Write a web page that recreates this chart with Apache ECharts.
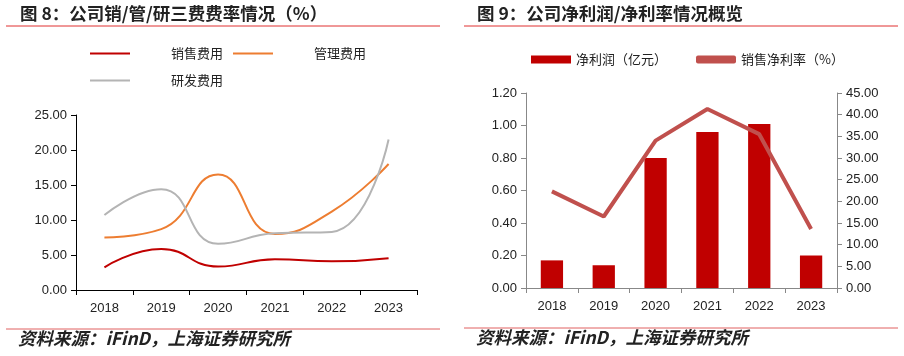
<!DOCTYPE html>
<html><head><meta charset="utf-8">
<script src="https://cdn.jsdelivr.net/npm/echarts@6/dist/echarts.min.js"></script>
<style>html,body{margin:0;padding:0;background:#fff}#c{width:904px;height:356px}</style>
</head><body><div id="c"></div>
<script>
const years = ['2018','2019','2020','2021','2022','2023'];
const salesRate = [3.24, 5.85, 3.35, 4.4, 4.1, 4.55];
const mgmtRate = [7.5, 8.7, 16.5, 8.0, 11.2, 18.0];
const rdRate = [10.7, 14.4, 6.6, 8.1, 8.3, 21.5];
const netProfit = [0.17, 0.14, 0.80, 0.96, 1.01, 0.20];
const netMargin = [22.3, 16.5, 34.0, 41.3, 35.5, 13.6];
const leftTicks = [0, 25];
const rightTicksL = [0, 1.2];
const rightTicksR = [0, 45];

const cjk = '"Noto Sans CJK SC", sans-serif';
const num = '"Liberation Sans", Arial, sans-serif';
const chart = echarts.init(document.getElementById('c'));
const fmt2 = v => v.toFixed(2);
const legText = {fontFamily: cjk, fontSize: 13, color:'#222', padding:[0,0,0,36]};
function lineLeg(name, left, top) {
  return {left: left, top: top, itemWidth: 40, itemHeight: 2, icon: 'rect', data: [name], textStyle: legText};
}
chart.setOption({
  animation: false,
  graphic: [
    {type:'text', left: 20, top: 5, style:{text:'图 8：公司销/管/研三费费率情况（%）', font:'bold 17.5px ' + cjk, fill:'#222'}},
    {type:'line', shape:{x1:6,y1:26,x2:440,y2:26}, style:{stroke:'#e03030', lineWidth:1}},
    {type:'line', shape:{x1:6,y1:329,x2:440,y2:329}, style:{stroke:'#e06060', lineWidth:1}},
    {type:'text', left: 18, top: 330, style:{text:'资料来源：iFinD，上海证券研究所', font:'italic bold 17.5px ' + cjk, fill:'#222'}},
    {type:'text', left: 477, top: 5, style:{text:'图 9：公司净利润/净利率情况概览', font:'bold 17.5px ' + cjk, fill:'#222'}},
    {type:'line', shape:{x1:464,y1:26,x2:898,y2:26}, style:{stroke:'#e03030', lineWidth:1}},
    {type:'line', shape:{x1:464,y1:328,x2:898,y2:328}, style:{stroke:'#e06060', lineWidth:1}},
    {type:'text', left: 476, top: 329, style:{text:'资料来源：iFinD，上海证券研究所', font:'italic bold 17.5px ' + cjk, fill:'#222'}}
  ],
  legend: [
    lineLeg('销售费用', 85, 42),
    lineLeg('管理费用', 228, 42),
    lineLeg('研发费用', 85, 69),
    {left: 526, top: 48, itemWidth: 40, itemHeight: 8, itemGap: 29,
     data: [{name:'净利润（亿元）', icon:'rect'}, {name:'销售净利率（%）', icon:'roundRect'}],
     textStyle:{fontFamily: cjk, fontSize: 13, color:'#222'}}
  ],
  grid: [
    {left: 76, top: 115, width: 341, height: 175},
    {left: 526, top: 93, width: 311, height: 195}
  ],
  xAxis: [
    {type:'category', data: years, gridIndex:0,
     axisLine:{lineStyle:{color:'#000'}}, axisTick:{show:true, lineStyle:{color:'#000'}, length:5},
     axisLabel:{fontFamily:num, fontSize:13, color:'#222', margin:12}},
    {type:'category', data: years, gridIndex:1,
     axisLine:{lineStyle:{color:'#888'}}, axisTick:{show:true, lineStyle:{color:'#888'}, length:5},
     axisLabel:{fontFamily:num, fontSize:13, color:'#222', margin:12}}
  ],
  yAxis: [
    {type:'value', gridIndex:0, min: leftTicks[0], max: leftTicks[1], interval:5,
     axisLine:{show:true, lineStyle:{color:'#000'}}, axisTick:{show:true, lineStyle:{color:'#000'}, length:5},
     splitLine:{show:false}, axisLabel:{formatter:fmt2, fontFamily:num, fontSize:13, color:'#222', margin:9}},
    {type:'value', gridIndex:1, min: rightTicksL[0], max: rightTicksL[1], interval:0.2,
     axisLine:{show:true, lineStyle:{color:'#888'}}, axisTick:{show:true, lineStyle:{color:'#888'}, length:5},
     splitLine:{show:false}, axisLabel:{formatter:fmt2, fontFamily:num, fontSize:13, color:'#222', margin:9}},
    {type:'value', gridIndex:1, position:'right', min: rightTicksR[0], max: rightTicksR[1], interval:5,
     axisLine:{show:true, lineStyle:{color:'#888'}}, axisTick:{show:true, lineStyle:{color:'#888'}, length:5},
     splitLine:{show:false}, axisLabel:{formatter:fmt2, fontFamily:num, fontSize:13, color:'#222', margin:9}}
  ],
  series: [
    {name:'销售费用', type:'line', xAxisIndex:0, yAxisIndex:0, data: salesRate, smooth:0.5, showSymbol:false,
     lineStyle:{color:'#C00000', width:2}, itemStyle:{color:'#C00000'}},
    {name:'管理费用', type:'line', xAxisIndex:0, yAxisIndex:0, data: mgmtRate, smooth:0.5, showSymbol:false,
     lineStyle:{color:'#ED7D31', width:2}, itemStyle:{color:'#ED7D31'}},
    {name:'研发费用', type:'line', xAxisIndex:0, yAxisIndex:0, data: rdRate, smooth:0.5, showSymbol:false,
     lineStyle:{color:'#B4B4B4', width:2}, itemStyle:{color:'#B4B4B4'}},
    {name:'净利润（亿元）', type:'bar', xAxisIndex:1, yAxisIndex:1, data: netProfit, barWidth:'43%',
     itemStyle:{color:'#C00000'}},
    {name:'销售净利率（%）', type:'line', xAxisIndex:1, yAxisIndex:2, data: netMargin, showSymbol:false,
     lineStyle:{color:'#C0504D', width:4}, itemStyle:{color:'#C0504D'}}
  ]
});
</script></body></html>
